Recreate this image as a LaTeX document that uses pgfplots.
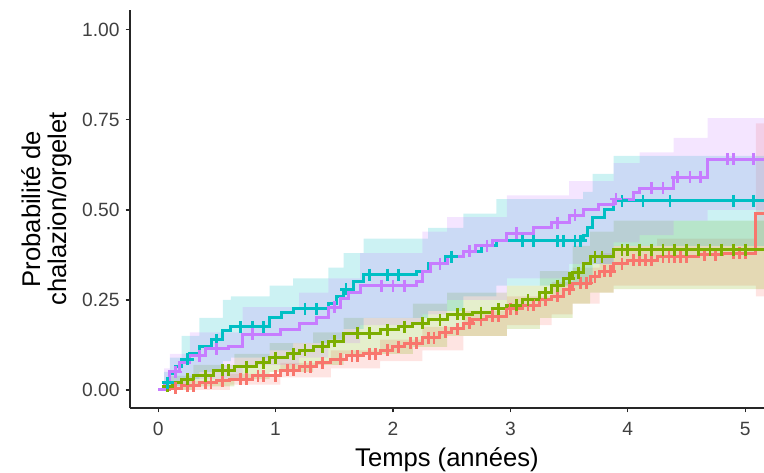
\documentclass[border=0pt]{standalone}
\usepackage{pgfplots}
\pgfplotsset{compat=1.18}
\usepgfplotslibrary{fillbetween}
\usepackage{fontspec}
\setmainfont{Liberation Sans}
\definecolor{cred}{HTML}{F8766D}
\definecolor{cgreen}{HTML}{7CAE00}
\definecolor{ccyan}{HTML}{00BFC4}
\definecolor{cpurple}{HTML}{C77CFF}

\begin{document}
\begin{tikzpicture}
\begin{axis}[
  scale only axis,
  width=317pt, height=199pt,
  xmin=-0.24, xmax=5.16,
  ymin=-0.05, ymax=1.055,
  axis x line=bottom, axis y line=left,
  axis line style={-, line width=0.7pt, black!85},
  xtick={0,1,2,3,4,5},
  ytick={0,0.25,0.5,0.75,1},
  yticklabel style={xshift=0.5pt, /pgf/number format/.cd, fixed, zerofill, precision=2},
  /pgf/number format/assume math mode=true,
  tick align=outside,
  major tick length=2.2pt,
  tick style={line width=0.6pt, black!85},
  ticklabel style={font=\fontsize{9.6}{11}\selectfont, text=black!75},
  xticklabel style={yshift=-1.5pt},
  xlabel={Temps (années)},
  ylabel={Probabilité de\\chalazion/orgelet},
  label style={font=\fontsize{12.8}{13}\selectfont},
  ylabel style={align=center},
  xlabel style={yshift=1.2pt},
  ylabel style={yshift=-1.5pt},
  clip=true,
]
% ---------- confidence bands ----------
% red
\addplot[name path=rU, const plot, draw=none] coordinates {(0,0) (0.2,0.025) (0.61,0.045) (1.04,0.075) (1.47,0.11) (1.89,0.14) (2.25,0.175) (2.6,0.22) (2.97,0.26) (3.35,0.30) (3.53,0.34) (3.76,0.38) (3.88,0.40) (4.25,0.42) (5.09,0.74) (5.16,0.74)};
\addplot[name path=rL, const plot, draw=none] coordinates {(0,0) (0.2,0) (0.61,0.015) (1.04,0.035) (1.47,0.06) (1.89,0.08) (2.25,0.11) (2.6,0.15) (2.97,0.18) (3.35,0.21) (3.53,0.24) (3.76,0.27) (3.88,0.29) (4.25,0.29) (5.09,0.26) (5.16,0.26)};
\addplot[fill=cred, fill opacity=0.2, draw=none] fill between[of=rU and rL];
% green
\addplot[name path=gU, const plot, draw=none] coordinates {(0,0) (0.1,0.04) (0.3,0.07) (0.65,0.10) (0.95,0.13) (1.32,0.16) (1.58,0.20) (2.17,0.24) (2.46,0.27) (2.97,0.29) (3.25,0.33) (3.53,0.40) (3.68,0.44) (3.88,0.47) (5.16,0.47)};
\addplot[name path=gL, const plot, draw=none] coordinates {(0,0) (0.1,0) (0.3,0.01) (0.65,0.03) (0.95,0.05) (1.32,0.07) (1.58,0.10) (2.17,0.12) (2.46,0.15) (2.97,0.17) (3.25,0.20) (3.53,0.24) (3.68,0.27) (3.88,0.28) (5.16,0.28)};
\addplot[fill=cgreen, fill opacity=0.2, draw=none] fill between[of=gU and gL];
% cyan
\addplot[name path=cU, const plot, draw=none] coordinates {(0,0) (0.05,0.05) (0.1,0.09) (0.2,0.15) (0.35,0.2) (0.55,0.25) (0.62,0.26) (0.95,0.29) (1.15,0.31) (1.45,0.34) (1.58,0.38) (1.75,0.42) (2.3,0.45) (2.6,0.49) (2.88,0.53) (3.62,0.55) (3.7,0.60) (3.88,0.65) (5.16,0.65)};
\addplot[name path=cL, const plot, draw=none] coordinates {(0,0) (0.05,0) (0.1,0.01) (0.2,0.03) (0.35,0.05) (0.55,0.08) (0.62,0.09) (0.95,0.11) (1.15,0.13) (1.45,0.14) (1.58,0.17) (1.75,0.20) (2.3,0.22) (2.6,0.26) (2.88,0.29) (3.62,0.30) (3.7,0.35) (3.88,0.40) (5.16,0.40)};
\addplot[fill=ccyan, fill opacity=0.2, draw=none] fill between[of=cU and cL];
% purple
\addplot[name path=pU, const plot, draw=none] coordinates {(0,0) (0.05,0.06) (0.1,0.10) (0.27,0.16) (0.72,0.23) (1.2,0.27) (1.45,0.31) (1.72,0.38) (2.25,0.44) (2.46,0.48) (2.97,0.54) (3.5,0.58) (3.88,0.63) (4.1,0.66) (4.39,0.70) (4.68,0.755) (5.16,0.755)};
\addplot[name path=pL, const plot, draw=none] coordinates {(0,0) (0.05,0) (0.1,0.01) (0.27,0.03) (0.72,0.07) (1.2,0.09) (1.45,0.13) (1.72,0.18) (2.25,0.21) (2.46,0.25) (2.97,0.31) (3.5,0.35) (3.88,0.41) (4.1,0.43) (4.39,0.47) (4.68,0.50) (5.16,0.50)};
\addplot[fill=cpurple, fill opacity=0.2, draw=none] fill between[of=pU and pL];

% ---------- step curves ----------
\addplot[const plot, cred, line width=1.5pt] coordinates {(0,0) (0.1,0.005) (0.2,0.012) (0.35,0.02) (0.5,0.025) (0.61,0.03) (0.8,0.04) (1.04,0.055) (1.2,0.065) (1.35,0.075) (1.47,0.085) (1.6,0.095) (1.75,0.10) (1.89,0.11) (2.0,0.12) (2.1,0.13) (2.25,0.145) (2.4,0.16) (2.5,0.17) (2.6,0.185) (2.68,0.195) (2.8,0.205) (2.97,0.225) (3.1,0.235) (3.25,0.25) (3.35,0.26) (3.45,0.28) (3.53,0.297) (3.68,0.314) (3.76,0.33) (3.88,0.35) (4.0,0.36) (4.25,0.37) (4.6,0.375) (4.81,0.38) (5.09,0.49) (5.16,0.49)};
\addplot[only marks, mark=+, mark size=3pt, cred, mark options={line width=1.4pt}] coordinates {(0.15,0.005) (0.25,0.012) (0.3,0.012) (0.4,0.02) (0.45,0.02) (0.55,0.025) (0.7,0.03) (0.75,0.03) (0.85,0.04) (0.9,0.04) (1.0,0.04) (1.1,0.055) (1.15,0.055) (1.25,0.065) (1.3,0.065) (1.4,0.075) (1.55,0.085) (1.65,0.095) (1.7,0.095) (1.8,0.10) (1.85,0.10) (1.95,0.11) (2.05,0.12) (2.15,0.13) (2.2,0.13) (2.3,0.145) (2.35,0.145) (2.45,0.16) (2.55,0.17) (2.65,0.185) (2.75,0.195) (2.85,0.205) (2.9,0.205) (3.0,0.225) (3.05,0.225) (3.15,0.235) (3.2,0.235) (3.3,0.25) (3.4,0.26) (3.5,0.28) (3.6,0.297) (3.65,0.297) (3.72,0.314) (3.8,0.33) (3.85,0.33) (3.95,0.35) (4.05,0.36) (4.1,0.36) (4.15,0.36) (4.2,0.36) (4.3,0.37) (4.35,0.37) (4.4,0.37) (4.45,0.37) (4.5,0.37) (4.65,0.375) (4.75,0.375) (4.9,0.38) (4.95,0.38) (5.0,0.38)};

\addplot[const plot, cgreen, line width=1.5pt] coordinates {(0,0) (0.05,0.01) (0.12,0.02) (0.2,0.03) (0.3,0.04) (0.47,0.055) (0.65,0.065) (0.84,0.075) (0.95,0.09) (1.1,0.10) (1.2,0.11) (1.32,0.12) (1.45,0.135) (1.58,0.157) (1.89,0.167) (2.05,0.175) (2.17,0.185) (2.3,0.195) (2.46,0.21) (2.68,0.215) (2.85,0.225) (2.97,0.235) (3.1,0.25) (3.25,0.27) (3.35,0.29) (3.45,0.31) (3.53,0.325) (3.62,0.35) (3.68,0.37) (3.88,0.39) (5.16,0.39)};
\addplot[only marks, mark=+, mark size=3pt, cgreen, mark options={line width=1.4pt}] coordinates {(0.08,0.01) (0.25,0.03) (0.4,0.04) (0.55,0.055) (0.6,0.055) (0.75,0.065) (0.9,0.075) (1.0,0.09) (1.15,0.10) (1.25,0.11) (1.4,0.12) (1.5,0.135) (1.7,0.157) (1.8,0.157) (1.95,0.167) (2.1,0.175) (2.25,0.185) (2.4,0.195) (2.55,0.21) (2.6,0.21) (2.75,0.215) (2.9,0.225) (3.05,0.235) (3.15,0.25) (3.3,0.27) (3.4,0.29) (3.5,0.31) (3.58,0.325) (3.72,0.37) (3.78,0.37) (3.95,0.39) (4.0,0.39) (4.1,0.39) (4.2,0.39) (4.3,0.39) (4.4,0.39) (4.5,0.39) (4.6,0.39) (4.7,0.39) (4.8,0.39) (4.9,0.39) (5.0,0.39)};

\addplot[const plot, ccyan, line width=1.5pt] coordinates {(0,0) (0.05,0.02) (0.1,0.045) (0.15,0.065) (0.2,0.085) (0.27,0.10) (0.35,0.12) (0.45,0.14) (0.55,0.165) (0.62,0.175) (0.95,0.20) (1.05,0.215) (1.15,0.225) (1.45,0.24) (1.52,0.26) (1.58,0.28) (1.66,0.30) (1.75,0.32) (2.2,0.33) (2.3,0.35) (2.45,0.37) (2.6,0.385) (2.75,0.40) (2.88,0.415) (3.62,0.43) (3.66,0.45) (3.7,0.48) (3.8,0.50) (3.88,0.525) (5.16,0.525)};
\addplot[only marks, mark=+, mark size=3pt, ccyan, mark options={line width=1.4pt}] coordinates {(0.08,0.02) (0.25,0.085) (0.5,0.14) (0.7,0.175) (0.8,0.175) (0.9,0.175) (1.25,0.225) (1.35,0.225) (1.6,0.28) (1.8,0.32) (1.95,0.32) (2.05,0.32) (2.5,0.37) (2.65,0.385) (3.1,0.415) (3.2,0.415) (3.4,0.415) (3.45,0.415) (3.55,0.415) (3.6,0.415) (3.95,0.525) (4.13,0.525) (4.36,0.525) (4.9,0.525) (5.07,0.525)};

\addplot[const plot, cpurple, line width=1.5pt] coordinates {(0,0) (0.05,0.02) (0.1,0.05) (0.18,0.075) (0.27,0.095) (0.4,0.115) (0.6,0.12) (0.72,0.155) (1.04,0.167) (1.2,0.185) (1.35,0.20) (1.45,0.23) (1.55,0.255) (1.62,0.27) (1.72,0.29) (2.2,0.30) (2.25,0.33) (2.32,0.35) (2.46,0.37) (2.6,0.385) (2.7,0.40) (2.85,0.415) (2.97,0.435) (3.2,0.45) (3.35,0.465) (3.5,0.485) (3.62,0.50) (3.75,0.515) (3.88,0.53) (4.05,0.547) (4.1,0.56) (4.39,0.59) (4.68,0.64) (5.16,0.64)};
\addplot[only marks, mark=+, mark size=3pt, cpurple, mark options={line width=1.4pt}] coordinates {(0.15,0.05) (0.35,0.095) (0.5,0.115) (0.8,0.155) (1.5,0.23) (1.9,0.29) (2.0,0.29) (2.1,0.29) (2.4,0.35) (2.65,0.385) (2.8,0.40) (3.05,0.435) (3.4,0.465) (3.55,0.485) (3.9,0.53) (4.2,0.56) (4.3,0.56) (4.42,0.59) (4.53,0.59) (4.62,0.59) (4.85,0.64) (4.9,0.64) (5.07,0.64)};
\end{axis}
\pgfresetboundingbox
\path ([xshift=-65pt,yshift=-32pt]current axis.south west) rectangle ([yshift=5pt]current axis.north east);
\end{tikzpicture}
\end{document}
